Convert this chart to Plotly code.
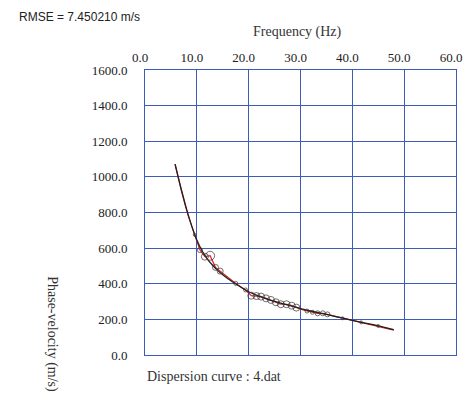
import plotly.graph_objects as go

# Observed dispersion data (frequency Hz, phase velocity m/s)
freq_obs = [5.8, 7.0, 8.3, 9.6, 10.6, 11.55, 12.56, 13.6, 14.5, 16.0, 17.5, 19.4, 20.5, 21.5,
            22.4, 23.35, 24.3, 25.25, 26.2, 27.3, 28.3, 29.2, 30.2, 31.25, 32.3, 33.3, 34.3,
            35.2, 36.5, 38.1, 40.0, 41.7, 43.3, 45.0, 46.5, 48.0]
vel_obs = [1072, 925, 785, 674, 589, 552, 557, 492, 471, 435, 402, 365, 333, 331,
           328, 318, 309, 296, 285, 285, 277, 266, 256, 247, 240, 234, 234,
           228, 218, 206, 196, 183, 175, 163, 152, 140]
marker_size = [0, 0, 0, 3, 5, 7, 9, 6, 6, 0, 4, 4, 7, 7,
               7, 7, 7, 7, 7, 7, 7, 7, 0, 4, 4, 5, 5,
               5, 0, 3, 0, 3, 0, 3, 0, 0]

# Theoretical (fitted) dispersion curve
freq_th = [5.8, 7, 8, 9, 10, 11, 12, 13, 14, 15, 16, 18, 20, 22, 24, 26, 28, 30, 32, 34,
           36, 38, 40, 42, 44, 46, 48]
vel_th = [1072, 930, 820, 725, 645, 585, 540, 505, 475, 450, 428, 390, 355, 330, 310, 293,
          277, 261, 247, 234, 221, 208, 195, 182, 170, 157, 143]

x_ticks = [0, 10, 20, 30, 40, 50, 60]
y_ticks = [0, 200, 400, 600, 800, 1000, 1200, 1400, 1600]

serif = "Liberation Serif"
grid = "#3d5cb8"

fig = go.Figure()
fig.add_trace(go.Scatter(x=freq_obs, y=vel_obs, mode="lines",
                         line=dict(color="#e02020", width=1.2), hoverinfo="skip"))
fig.add_trace(go.Scatter(x=freq_th, y=vel_th, mode="lines", line_shape="spline",
                         line=dict(color="#202020", width=1.3), hoverinfo="skip"))
mx = [f for f, s in zip(freq_obs, marker_size) if s > 0]
my = [v for v, s in zip(vel_obs, marker_size) if s > 0]
ms = [s for s in marker_size if s > 0]
fig.add_trace(go.Scatter(x=mx, y=my, mode="markers",
                         marker=dict(symbol="circle-open", size=ms, color="#333333",
                                     line=dict(width=1, color="#333333")),
                         hoverinfo="skip"))

fig.update_layout(
    width=470, height=394,
    margin=dict(l=145, r=8, t=70, b=39),
    paper_bgcolor="white", plot_bgcolor="white",
    showlegend=False,
    font=dict(family=serif, size=13, color="#222222"),
    xaxis=dict(side="top", range=[0, 60], tickvals=x_ticks,
               ticktext=[f"{v:.1f}" for v in x_ticks],
               showgrid=True, gridcolor=grid, gridwidth=1,
               showline=True, linecolor=grid, linewidth=1, mirror=True,
               zeroline=False, ticks="", ticklabelstandoff=2, ticklabelshift=-5,
               ticklabeloverflow="allow",
               tickfont=dict(family=serif, size=13, color="#222222")),
    yaxis=dict(range=[0, 1600], tickvals=y_ticks,
               ticktext=[f"{v:.1f}" for v in y_ticks],
               showgrid=True, gridcolor=grid, gridwidth=1,
               showline=True, linecolor=grid, linewidth=1, mirror=True,
               zeroline=False, ticks="", ticklabelstandoff=14,
               tickfont=dict(family=serif, size=13, color="#222222")),
    annotations=[
        dict(text="RMSE = 7.450210 m/s", xref="paper", yref="paper",
             x=-0.413, y=1.186, xanchor="left", yanchor="middle", showarrow=False,
             font=dict(family="Liberation Sans", size=12, color="#222222")),
        dict(text="Frequency (Hz)", xref="paper", yref="paper",
             x=0.489, y=1.133, xanchor="center", yanchor="middle", showarrow=False,
             font=dict(family=serif, size=14, color="#333333")),
        dict(text="Phase-velocity (m/s)", xref="paper", yref="paper",
             x=-0.30, y=0.074, xanchor="center", yanchor="middle", showarrow=False,
             textangle=90, font=dict(family=serif, size=14, color="#333333")),
        dict(text="Dispersion curve : 4.dat", xref="paper", yref="paper",
             x=0.0, y=-0.077, xanchor="left", yanchor="middle", showarrow=False,
             font=dict(family=serif, size=14, color="#333333")),
    ],
)

fig.write_html("out.html")
